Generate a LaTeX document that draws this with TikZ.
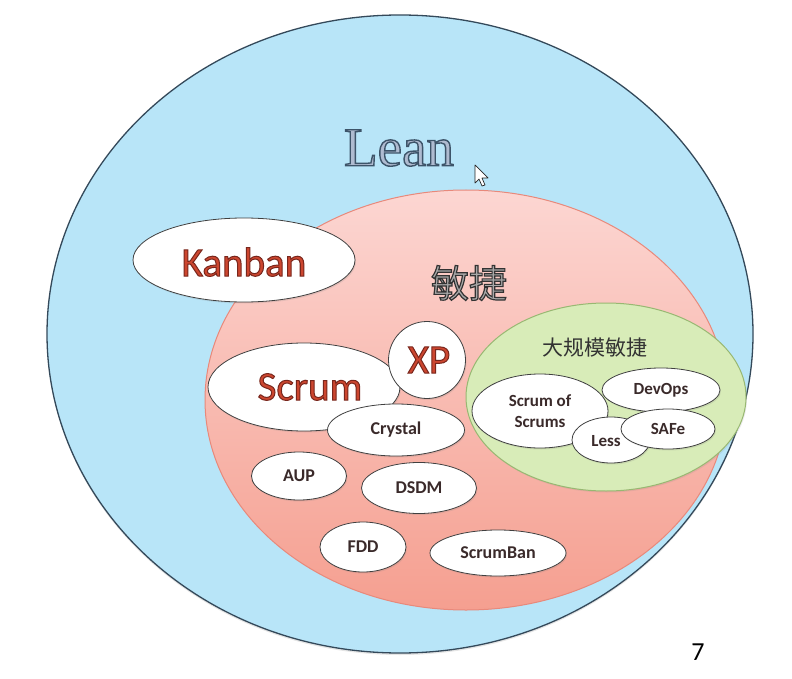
\documentclass[tikz,border=0pt]{standalone}
\usepackage{fontspec}
\setmainfont{Carlito}
\newfontfamily\cjk{Noto Sans CJK SC}
\newfontfamily\leanfont{Liberation Serif}
\usetikzlibrary{shapes.geometric,shadows}
\definecolor{lblue}{HTML}{B8E5F8}
\definecolor{ldark}{HTML}{34495A}
\definecolor{pinktop}{HTML}{FCD6D2}
\definecolor{pinkbot}{HTML}{F59F90}
\definecolor{pinkline}{HTML}{E8897B}
\definecolor{lgreen}{HTML}{D8ECB8}
\definecolor{greenline}{HTML}{98B872}
\definecolor{bigred}{HTML}{CC462F}
\definecolor{smalltxt}{HTML}{3A2A2A}
\definecolor{leanfill}{HTML}{AFBBD0}
\definecolor{cjkfill}{HTML}{A8A8A8}
% outlined text: fill colour #1, stroke "r g b" #2, stroke width #3 (bp)
\newcommand{\outl}[4]{\textcolor{#1}{\special{pdf:literal direct #2 RG #3 w 2 Tr}#4\special{pdf:literal direct 0 Tr 0.3985 w}}}
\tikzset{
  oval/.style={ellipse, draw=black!75, line width=0.8pt, fill=white, inner sep=0pt,
    drop shadow={opacity=0.18, shadow xshift=1pt, shadow yshift=-1.5pt}},
  bigtxt/.style={font=\fontsize{41}{41}\selectfont},
  smalltxt/.style={font=\bfseries\fontsize{18}{18}\selectfont, text=smalltxt},
  tinytxt/.style={font=\bfseries\fontsize{17}{21}\selectfont, text=smalltxt, align=center}
}
\newcommand{\bigword}[1]{\outl{bigred}{0.47 0.15 0.11}{1.0}{#1}}
\begin{document}
\begin{tikzpicture}[x=1pt,y=-1pt]
\useasboundingbox[fill=white] (0,0) rectangle (792,679);
% Lean
\node[ellipse, draw=ldark, line width=1.3pt, fill=lblue, inner sep=0pt,
      minimum width=706pt, minimum height=638pt,
      drop shadow={opacity=0.2, shadow xshift=0pt, shadow yshift=-2pt}] (lean) at (400,334) {};
\node[font=\leanfont\fontsize{55}{55}\selectfont] (leant) at (399,148)
  {\outl{leanfill}{0.24 0.33 0.41}{1.4}{Lean}};
% Agile
\node[ellipse, draw=pinkline, line width=1pt, top color=pinktop, bottom color=pinkbot,
      inner sep=0pt, minimum width=522pt, minimum height=420pt] (agile) at (466,400) {};
\node[font=\cjk\fontsize{38}{38}\selectfont] (agilet) at (469,283)
  {\outl{cjkfill}{0.2 0.2 0.2}{1.2}{敏捷}};
% Kanban
\node[oval, minimum width=222pt, minimum height=84pt] (kanban) at (244,260) {};
\node[bigtxt] (kanbant) at (244,262) {\bigword{Kanban}};
% Scrum
\node[oval, minimum width=192pt, minimum height=88pt] (scrum) at (304,387) {};
\node[bigtxt] (scrumt) at (310,387) {\bigword{Scrum}};
% XP
\node[oval, minimum width=77pt, minimum height=77pt] (xp) at (427,360) {};
\node[bigtxt] (xpt) at (429,360) {\bigword{XP}};
% Crystal
\node[oval, minimum width=137pt, minimum height=52pt, smalltxt] (crystal) at (396,430) {Crystal};
% small methods
\node[oval, minimum width=95pt, minimum height=48pt, smalltxt] (aup) at (299,476) {AUP};
\node[oval, minimum width=115pt, minimum height=51pt, smalltxt] (dsdm) at (419,488) {DSDM};
\node[oval, minimum width=86pt, minimum height=50pt, smalltxt] (fdd) at (363,547) {FDD};
\node[oval, minimum width=136pt, minimum height=46pt, smalltxt] (scrumban) at (498,553) {ScrumBan};
% Large-scale agile
\node[ellipse, draw=greenline, line width=1pt, fill=lgreen, inner sep=0pt,
      minimum width=280pt, minimum height=188pt,
      drop shadow={opacity=0.15, shadow xshift=1pt, shadow yshift=-1.5pt}] (large) at (606,397) {};
\node[font=\cjk\fontsize{21}{21}\selectfont, text=black!80] (larget) at (595,348) {大规模敏捷};
\node[oval, minimum width=136pt, minimum height=74pt, tinytxt] (sos) at (540,411) {Scrum of\\Scrums};
\node[oval, minimum width=118pt, minimum height=44pt, tinytxt] (devops) at (661,390) {DevOps};
\node[oval, minimum width=78pt, minimum height=46pt, tinytxt] (less) at (611,440) {};
\node[tinytxt] (lesst) at (606,441) {Less};
\node[oval, minimum width=94pt, minimum height=40pt, tinytxt] (safe) at (668,429) {SAFe};
% page number
\node[font=\fontsize{26}{26}\selectfont] (page) at (698,652) {7};
% cursor
\draw[fill=white, draw=black!85, line width=0.7pt, line join=round]
  (475,165) -- (475,183) -- (479,179) -- (482,186) -- (485,185) -- (482,178) -- (488,178) -- cycle;
\end{tikzpicture}
\end{document}
